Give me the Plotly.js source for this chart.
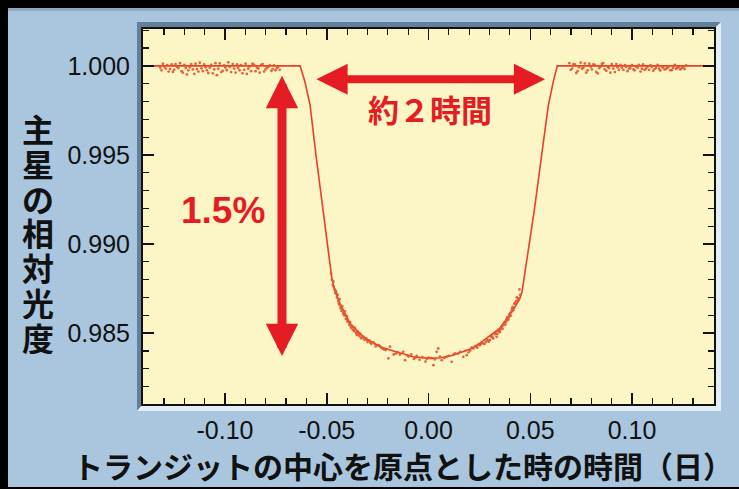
<!DOCTYPE html>
<html>
<head>
<meta charset="utf-8">
<script src="https://cdn.plot.ly/plotly-3.0.1.min.js"></script>
<style>html,body{margin:0;padding:0;background:#000;}#chart{width:739px;height:489px;}</style>
</head>
<body>
<div id="chart"></div>
<script>
// ---- model light curve ----
const modelX = [-0.140, -0.0631, -0.0607, -0.0582, -0.0553, -0.0522, -0.0500, -0.0488, -0.0476, -0.0466, -0.0455, -0.0445, -0.0435, -0.0386, -0.0320, -0.0280, -0.0238, -0.0189, -0.0130, -0.0076, 0.0007, 0.0060, 0.0120, 0.0219, 0.0253, 0.0300, 0.0351, 0.0415, 0.0435, 0.0448, 0.0460, 0.0471, 0.0483, 0.0495, 0.0507, 0.0520, 0.0556, 0.0589, 0.0613, 0.0633, 0.140];
const modelY = [1.0000, 1.0000, 0.99910, 0.99779, 0.99499, 0.99218, 0.99003, 0.98910, 0.98816, 0.98765, 0.98725, 0.98692, 0.98667, 0.98554, 0.98479, 0.98450, 0.98423, 0.98405, 0.98385, 0.98367, 0.98358, 0.98362, 0.98376, 0.98416, 0.98444, 0.98485, 0.98528, 0.98629, 0.98662, 0.98690, 0.98735, 0.98816, 0.98910, 0.99003, 0.99096, 0.99190, 0.99499, 0.99779, 0.99910, 1.0000, 1.0000];

// ---- observed points: before transit ----
const preX = [-0.1318, -0.1305, -0.1291, -0.1277, -0.1262, -0.1250, -0.1236, -0.1221, -0.1207, -0.1193, -0.1180, -0.1166, -0.1151, -0.1138, -0.1124, -0.1109, -0.1095, -0.1082, -0.1068, -0.1053, -0.1040, -0.1026, -0.1011, -0.0998, -0.0984, -0.0970, -0.0955, -0.0941, -0.0928, -0.0914, -0.0899, -0.0886, -0.0872, -0.0857, -0.0843, -0.0830, -0.0815, -0.0801, -0.0787, -0.0772, -0.0759, -0.0745, -0.0731,
  -0.1312, -0.1298, -0.1284, -0.1270, -0.1256, -0.1243, -0.1229, -0.1214, -0.1200, -0.1187, -0.1173, -0.1158, -0.1145, -0.1131, -0.1116, -0.1102, -0.1089, -0.1075, -0.1060, -0.1047, -0.1033, -0.1018, -0.1005, -0.0991, -0.0977, -0.0962, -0.0948, -0.0935, -0.0921, -0.0906, -0.0893, -0.0879, -0.0865, -0.0850, -0.0836, -0.0822, -0.0808, -0.0794, -0.0780, -0.0766, -0.0752, -0.0738];
const preY = [0.99990, 1.00012, 0.99985, 0.99968, 1.00008, 0.99978, 0.99995, 1.00015, 0.99962, 0.99988, 0.99975, 1.00010, 0.99955, 0.99982, 1.00018, 0.99970, 0.99992, 0.99960, 1.00006, 0.99980, 0.99948, 1.00014, 0.99972, 0.99990, 1.00020, 0.99965, 0.99985, 1.00008, 0.99975, 0.99958, 1.00012, 0.99984, 0.99970, 1.00005, 0.99990, 0.99962, 1.00010, 0.99980, 0.99995, 0.99972, 1.00003, 0.99988, 0.99978,
  0.99975, 0.99995, 1.00004, 0.99982, 0.99966, 1.00010, 0.99988, 0.99970, 1.00006, 0.99952, 0.99992, 0.99980, 1.00012, 0.99968, 0.99986, 1.00008, 0.99975, 0.99990, 0.99958, 1.00015, 0.99984, 0.99965, 1.00002, 0.99976, 0.99994, 1.00010, 0.99962, 0.99988, 1.00004, 0.99978, 0.99955, 0.99996, 1.00012, 0.99970, 0.99985, 1.00006, 0.99968, 0.99990, 1.00002, 0.99982, 0.99976, 0.99995];

// ---- observed points: in transit ----
const inX = [-0.0475, -0.0468, -0.0462, -0.0455, -0.0450, -0.0446, -0.0441, -0.0437, -0.0432, -0.0428, -0.0424, -0.0419, -0.0415, -0.0411, -0.0406, -0.0402, -0.0398, -0.0394, -0.0389, -0.0385, -0.0381, -0.0376, -0.0372, -0.0367, -0.0362, -0.0357, -0.0352, -0.0347, -0.0341, -0.0335, -0.0329, -0.0322, -0.0315, -0.0307, -0.0299, -0.0290, -0.0281, -0.0270, -0.0259, -0.0246, -0.0232, -0.0218, -0.0197, -0.0189, -0.0171, -0.0152, -0.0124, -0.0115, -0.0098, -0.0085, -0.0072, -0.0058, -0.0044, -0.0030, -0.0015, 0.0000, 0.0024, 0.0040, 0.0048, 0.0065, 0.0089, 0.0114, 0.0130, 0.0155, 0.0171, 0.0188, 0.0205, 0.0220, 0.0228, 0.0240, 0.0253, 0.0262, 0.0269, 0.0276, 0.0288, 0.0296, 0.0302, 0.0309, 0.0318, 0.0326, 0.0335, 0.0342, 0.0350, 0.0357, 0.0364, 0.0371, 0.0378, 0.0385, 0.0392, 0.0398, 0.0404, 0.0410, 0.0416, 0.0422, 0.0428, 0.0434, 0.0440, 0.0447,
  -0.0479, -0.0471, -0.0465, -0.0458, -0.0452, -0.0443, -0.0435, -0.0426, -0.0417, -0.0408, -0.0400, -0.0391, -0.0383, -0.0374, -0.0365, -0.0354, -0.0344, -0.0332, -0.0318, -0.0303, -0.0285, -0.0264, -0.0240, -0.0225, -0.0210, -0.0160, -0.0140, -0.0105, -0.0065, -0.0008, 0.0012, 0.0031, 0.0056, 0.0078, 0.0100, 0.0122, 0.0145, 0.0180, 0.0197, 0.0213, 0.0234, 0.0246, 0.0258, 0.0282, 0.0292, 0.0313, 0.0330, 0.0338, 0.0346, 0.0354, 0.0361, 0.0368, 0.0375, 0.0382, 0.0388, 0.0395, 0.0401, 0.0407, 0.0413, 0.0419, 0.0425, 0.0431, 0.0437, 0.0443, 0.0450];
const inY = [0.98800, 0.98790, 0.98745, 0.98735, 0.98700, 0.98715, 0.98665, 0.98690, 0.98640, 0.98625, 0.98650, 0.98610, 0.98600, 0.98622, 0.98580, 0.98595, 0.98565, 0.98570, 0.98545, 0.98560, 0.98530, 0.98540, 0.98520, 0.98512, 0.98530, 0.98505, 0.98490, 0.98508, 0.98485, 0.98495, 0.98470, 0.98482, 0.98462, 0.98470, 0.98450, 0.98458, 0.98440, 0.98448, 0.98425, 0.98433, 0.98418, 0.98408, 0.98358, 0.98424, 0.98380, 0.98392, 0.98395, 0.98348, 0.98368, 0.98380, 0.98355, 0.98372, 0.98350, 0.98365, 0.98340, 0.98362, 0.98320, 0.98395, 0.98414, 0.98348, 0.98367, 0.98339, 0.98386, 0.98395, 0.98367, 0.98376, 0.98402, 0.98414, 0.98425, 0.98418, 0.98433, 0.98448, 0.98442, 0.98440, 0.98465, 0.98452, 0.98461, 0.98478, 0.98470, 0.98495, 0.98479, 0.98512, 0.98505, 0.98532, 0.98525, 0.98555, 0.98548, 0.98580, 0.98575, 0.98605, 0.98598, 0.98635, 0.98628, 0.98665, 0.98660, 0.98700, 0.98695, 0.98745,
  0.98835, 0.98770, 0.98760, 0.98725, 0.98722, 0.98680, 0.98655, 0.98638, 0.98618, 0.98600, 0.98578, 0.98560, 0.98545, 0.98535, 0.98520, 0.98498, 0.98498, 0.98475, 0.98475, 0.98460, 0.98445, 0.98440, 0.98428, 0.98412, 0.98405, 0.98385, 0.98380, 0.98375, 0.98362, 0.98355, 0.98360, 0.98352, 0.98368, 0.98360, 0.98372, 0.98378, 0.98385, 0.98400, 0.98392, 0.98420, 0.98428, 0.98436, 0.98440, 0.98452, 0.98458, 0.98482, 0.98500, 0.98495, 0.98515, 0.98520, 0.98540, 0.98545, 0.98560, 0.98565, 0.98590, 0.98588, 0.98610, 0.98620, 0.98645, 0.98640, 0.98670, 0.98680, 0.98680, 0.98692, 0.98715];

// ---- observed points: after transit ----
const postX = [0.0692, 0.0706, 0.0719, 0.0733, 0.0748, 0.0761, 0.0775, 0.0790, 0.0803, 0.0817, 0.0832, 0.0845, 0.0859, 0.0874, 0.0887, 0.0901, 0.0916, 0.0929, 0.0943, 0.0958, 0.0971, 0.0985, 0.1000, 0.1013, 0.1027, 0.1042, 0.1055, 0.1069, 0.1084, 0.1097, 0.1111, 0.1126, 0.1139, 0.1153, 0.1168, 0.1181, 0.1195, 0.1210, 0.1223, 0.1237, 0.1252, 0.1266,
  0.0699, 0.0712, 0.0726, 0.0740, 0.0755, 0.0768, 0.0782, 0.0797, 0.0810, 0.0824, 0.0839, 0.0852, 0.0866, 0.0881, 0.0894, 0.0908, 0.0923, 0.0936, 0.0950, 0.0965, 0.0978, 0.0992, 0.1007, 0.1020, 0.1034, 0.1049, 0.1062, 0.1076, 0.1091, 0.1104, 0.1118, 0.1133, 0.1146, 0.1160, 0.1175, 0.1188, 0.1202, 0.1217, 0.1230, 0.1244, 0.1259];
const postY = [1.00015, 0.99985, 1.00008, 0.99970, 1.00018, 0.99990, 0.99962, 1.00012, 0.99980, 1.00005, 0.99958, 0.99995, 1.00016, 0.99972, 0.99988, 1.00010, 0.99965, 0.99992, 1.00006, 0.99978, 0.99995, 0.99985, 1.00004, 0.99975, 0.99990, 0.99968, 1.00008, 0.99985, 0.99978, 0.99995, 0.99982, 1.00006, 0.99974, 0.99990, 0.99984, 0.99996, 0.99976, 1.00005, 0.99988, 0.99980, 0.99992, 1.00002,
  0.99978, 1.00010, 0.99960, 0.99992, 0.99984, 1.00014, 0.99975, 0.99995, 1.00008, 0.99966, 0.99988, 1.00012, 0.99980, 0.99994, 0.99962, 0.99985, 1.00010, 0.99978, 0.99990, 1.00004, 0.99970, 0.99988, 0.99980, 0.99996, 1.00006, 0.99984, 0.99978, 0.99994, 1.00004, 0.99972, 0.99990, 0.99984, 0.99996, 0.99980, 0.99990, 0.99976, 0.99988, 0.99984, 0.99994, 0.99986, 0.99982];

// ---- ticks and labels ----
const xTickVals = [-0.10, -0.05, 0.00, 0.05, 0.10];
const xTickText = ['-0.10', '-0.05', '0.00', '0.05', '0.10'];
const yTickVals = [0.985, 0.990, 0.995, 1.000];
const yTickText = ['0.985', '0.990', '0.995', '1.000'];
const xTitle = 'トランジットの中心を原点とした時の時間（日）';
const yTitle = '主星の相対光度';
const widthLabel = '約２時間';
const depthLabel = '1.5%';
// arrow endpoints (data units)
const widthArrow = {x0: -0.0558, x1: 0.0573, y: 0.99925};
const depthArrow = {x: -0.0720, y0: 0.99953, y1: 0.98371};

// ---- layout geometry (pixels) ----
const W = 739, H = 489;
const L = 143, R = 714, T = 29, B = 404;
const pw = R - L, ph = B - T;
const fx = px => (px - L) / pw;
const fy = py => (B - py) / ph;

const red = '#e51c23';
const cjk = '"Noto Sans CJK JP", "Noto Sans", sans-serif';
const latin = '"Liberation Sans", Arial, Helvetica, sans-serif';

const traces = [
  {x: modelX, y: modelY, mode: 'lines', line: {color: '#e8402a', width: 1.6}, hoverinfo: 'skip'},
  {x: preX.concat(inX, postX), y: preY.concat(inY, postY), mode: 'markers',
   marker: {color: '#e2562e', size: 2.8, opacity: 0.9}, hoverinfo: 'skip'}
];

function rectPath(pts) {
  return 'M' + pts.map(p => fx(p[0]) + ',' + fy(p[1])).join('L') + 'Z';
}

const shapes = [
  {type: 'rect', xref: 'paper', yref: 'paper', x0: fx(8), x1: fx(745), y0: fy(487), y1: fy(8),
   fillcolor: '#a9c6de', line: {width: 0}, layer: 'below'},
  {type: 'rect', xref: 'paper', yref: 'paper', x0: fx(8), x1: fx(745), y0: fy(11), y1: fy(8),
   fillcolor: '#93aac2', line: {width: 0}, layer: 'below'},
  {type: 'path', xref: 'paper', yref: 'paper', layer: 'below', line: {width: 0}, fillcolor: '#62809b',
   path: rectPath([[137, 411], [137, 22], [721, 22], [714, 29], [143, 29], [143, 404]])},
  {type: 'path', xref: 'paper', yref: 'paper', layer: 'below', line: {width: 0}, fillcolor: '#e4eef6',
   path: rectPath([[137, 411], [721, 411], [721, 22], [714, 29], [714, 404], [143, 404]])},
  {type: 'rect', xref: 'paper', yref: 'paper', x0: 0, x1: 1, y0: 0, y1: 1,
   fillcolor: '#fcf6c6', line: {width: 0}, layer: 'below'}
];

const annotations = [];
// x title
annotations.push({xref: 'paper', yref: 'paper', x: fx(403), y: fy(465), text: xTitle, showarrow: false,
  xanchor: 'center', yanchor: 'middle', font: {family: cjk, size: 30, color: '#111', weight: 'bold'}});
// y title (stacked characters)
Array.from(yTitle).forEach((ch, i) => {
  annotations.push({xref: 'paper', yref: 'paper', x: fx(38), y: fy(128 + i * 34.8), text: ch, showarrow: false,
    xanchor: 'center', yanchor: 'middle', height: 34, width: 36,
    font: {family: cjk, size: 32, color: '#111', weight: 'bold'}});
});
// width arrow
annotations.push({xref: 'x', yref: 'y', axref: 'x', ayref: 'y', x: widthArrow.x1, y: widthArrow.y,
  ax: widthArrow.x0, ay: widthArrow.y, text: '', showarrow: true, arrowhead: 2, startarrowhead: 2,
  arrowside: 'end+start', arrowwidth: 8, arrowsize: 0.78, startarrowsize: 0.78, arrowcolor: red,
  standoff: 0, startstandoff: 0});
// depth arrow
annotations.push({xref: 'x', yref: 'y', axref: 'x', ayref: 'y', x: depthArrow.x, y: depthArrow.y1,
  ax: depthArrow.x, ay: depthArrow.y0, text: '', showarrow: true, arrowhead: 2, startarrowhead: 2,
  arrowside: 'end+start', arrowwidth: 9, arrowsize: 0.72, startarrowsize: 0.72, arrowcolor: red,
  standoff: 0, startstandoff: 0});
annotations.push({xref: 'paper', yref: 'paper', x: fx(430), y: fy(108.5), text: widthLabel, showarrow: false,
  xanchor: 'center', yanchor: 'middle', font: {family: cjk, size: 31, color: red, weight: 'bold'}});
annotations.push({xref: 'paper', yref: 'paper', x: fx(223), y: fy(211), text: depthLabel, showarrow: false,
  xanchor: 'center', yanchor: 'middle', font: {family: latin, size: 37, color: red, weight: 'bold'}});

const axisCommon = {
  showgrid: false, zeroline: false, showline: true, linecolor: '#111', linewidth: 2,
  mirror: 'allticks', ticks: 'inside', ticklen: 11, tickwidth: 1.5, tickcolor: '#111',
  tickfont: {family: latin, size: 25, color: '#111'}, fixedrange: true
};

const layout = {
  width: W, height: H,
  margin: {l: L, r: W - R, t: T, b: H - B, pad: 0},
  paper_bgcolor: '#000', plot_bgcolor: '#fcf6c6',
  showlegend: false,
  xaxis: Object.assign({}, axisCommon, {
    range: [-0.1403, 0.1403], tickmode: 'array', tickvals: xTickVals, ticktext: xTickText,
    minor: {tickmode: 'linear', tick0: 0, dtick: 0.01, ticks: 'inside', ticklen: 6, tickwidth: 1.2, tickcolor: '#111'},
    ticklabelstandoff: 3
  }),
  yaxis: Object.assign({}, axisCommon, {
    range: [0.98102, 1.00207], tickmode: 'array', tickvals: yTickVals, ticktext: yTickText,
    minor: {tickmode: 'linear', tick0: 1, dtick: 0.001, ticks: 'inside', ticklen: 6, tickwidth: 1.2, tickcolor: '#111'},
    ticklabelstandoff: 6
  }),
  shapes: shapes,
  annotations: annotations
};

Plotly.newPlot('chart', traces, layout, {staticPlot: true, displayModeBar: false});
</script>
</body>
</html>
